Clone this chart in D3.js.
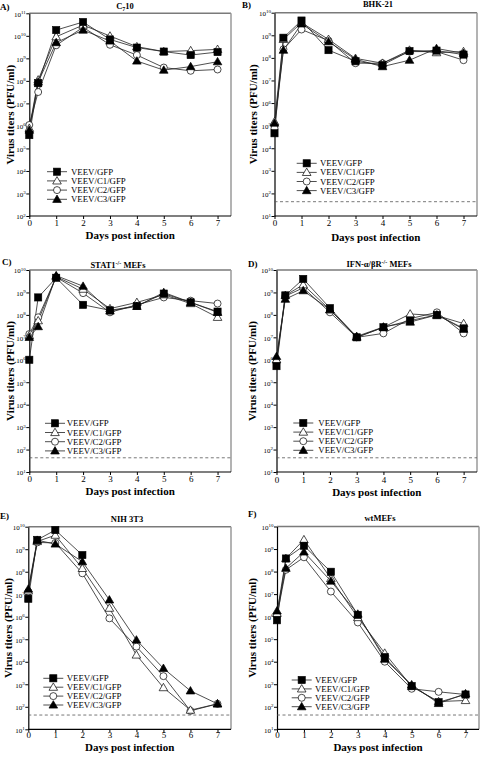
<!DOCTYPE html>
<html><head><meta charset="utf-8">
<script src="https://cdn.jsdelivr.net/npm/d3@7"></script>
<style>
body{margin:0;background:#fff;}
text{font-family:"Liberation Serif","Times New Roman",serif;fill:#000;}
</style></head><body>
<script>
// ---------- data ----------
const days = [0, 0.33, 1, 2, 3, 4, 5, 6, 7];
const xTicks = [0, 1, 2, 3, 4, 5, 6, 7];
const seriesNames = ["VEEV/GFP", "VEEV/C1/GFP", "VEEV/C2/GFP", "VEEV/C3/GFP"];
const panelLetters = ["A)", "B)", "C)", "D)", "E)", "F)"];
const yTickExpA = [2, 3, 4, 5, 6, 7, 8, 9, 10, 11];
const yTickExp = [1, 2, 3, 4, 5, 6, 7, 8, 9, 10];
const detectionLimit = 43;

// rows: VEEV/GFP, VEEV/C1/GFP, VEEV/C2/GFP, VEEV/C3/GFP  (PFU/ml)
const c710Titers = [
  [3.9e5, 7.9e7, 1.8e10, 4.1e10, 6.9e9, 3.0e9, 2.0e9, 1.4e9, 1.9e9],
  [7.9e5, 1.1e8, 9.1e9, 3.0e10, 9.8e9, 3.3e9, 2.0e9, 2.2e9, 2.5e9],
  [1.1e6, 3.2e7, 3.8e9, 2.4e10, 4.0e9, 1.4e9, 3.9e8, 2.8e8, 3.2e8],
  [6.5e5, 8.9e7, 5.0e9, 1.8e10, 5.9e9, 7.6e8, 3.0e8, 4.3e8, 7.1e8]
];
const bhkTiters = [
  [4.6e4, 7.8e8, 4.5e9, 2.2e8, 7.1e7, 4.8e7, 2.0e8, 2.1e8, 1.4e8],
  [1.5e5, 6.6e8, 3.6e9, 6.6e8, 9.5e7, 5.8e7, 2.2e8, 1.7e8, 1.9e8],
  [7.6e4, 2.4e8, 1.8e9, 5.8e8, 5.8e7, 5.8e7, 1.9e8, 1.9e8, 7.9e7],
  [1.3e5, 2.2e8, 3.2e9, 5.2e8, 8.7e7, 4.1e7, 7.9e7, 2.6e8, 1.6e8]
];
const stat1Titers = [
  [1.0e6, 6.0e8, 4.5e9, 2.8e8, 1.6e8, 2.5e8, 8.9e8, 3.6e8, 1.4e8],
  [1.2e7, 5.5e7, 5.0e9, 1.4e9, 1.9e8, 3.6e8, 7.9e8, 3.2e8, 7.8e7],
  [1.4e7, 7.8e7, 4.8e9, 9.3e8, 1.3e8, 2.8e8, 6.0e8, 4.3e8, 3.2e8],
  [1.0e7, 3.0e7, 5.6e9, 1.9e9, 1.5e8, 2.4e8, 1.0e9, 3.6e8, 1.3e8]
];
const ifnrTiters = [
  [5.2e5, 7.4e8, 4.0e9, 2.0e8, 1.0e7, 2.8e7, 5.6e7, 1.0e8, 2.5e7],
  [1.0e6, 7.4e8, 2.2e9, 1.7e8, 1.0e7, 2.8e7, 1.1e8, 9.3e7, 4.1e7],
  [7.9e5, 6.9e8, 1.6e9, 1.3e8, 1.0e7, 1.5e7, 6.8e7, 1.3e8, 1.5e7],
  [1.4e6, 5.0e8, 1.2e9, 1.7e8, 1.1e7, 2.9e7, 4.8e7, 1.0e8, 2.3e7]
];
const nih3t3Titers = [
  [6.3e6, 2.6e9, 7.1e9, 5.5e8, null, null, null, null, null],
  [1.4e7, 2.2e9, 4.2e9, 1.4e8, 2.4e6, 2.0e4, 7.1e2, 71, 1.35e2],
  [1.3e7, 2.0e9, 1.9e9, 8.5e7, 8.5e5, 4.7e4, 2.3e3, 66, 1.35e2],
  [1.7e7, 2.5e9, 1.7e9, 2.8e8, 5.6e6, 9.3e4, 5.1e3, 5.1e2, 1.35e2]
];
const wtMefTiters = [
  [6.9e5, 3.8e8, 1.4e9, 9.8e7, 1.2e6, 1.6e4, 8.3e2, 1.6e2, 3.5e2],
  [1.4e6, 3.8e8, 2.6e9, 4.9e7, 9.1e5, 2.4e4, 7.9e2, 1.7e2, 1.9e2],
  [1.1e6, 1.2e8, 4.3e8, 1.3e7, 5.5e5, 1.0e4, 6.3e2, 4.6e2, 3.5e2],
  [1.8e6, 1.4e8, 7.4e8, 3.8e7, 1.3e6, 1.3e4, 9.5e2, 1.4e2, 3.8e2]
];

// ---------- layout ----------
// title parts: mode 0 normal, 1 subscript, 2 superscript
const panels = [
  {data: c710Titers, exps: yTickExpA, title: [["C",0],["7",1],["10",0]], l:29.3, r:231, t:13.3, b:216, tx:125, ty:6, lx:0, ly:7,
   legX:57, legTX:71, legY:171.7, legStep:9.2, dashed:false, yTitleX:10, tickLY:223, xTitleY:235},
  {data: bhkTiters, exps: yTickExp, title: [["BHK-21",0]], l:274.5, r:477, t:12.7, b:216, tx:378, ty:4, lx:242, ly:5,
   legX:306.7, legTX:320, legY:163.3, legStep:9.1, dashed:true, yTitleX:253, tickLY:223, xTitleY:237},
  {data: stat1Titers, exps: yTickExp, title: [["STAT1",0],["-/-",2],[" MEFs",0]], l:29.3, r:231, t:270, b:472, tx:118, ty:265, lx:2, ly:262,
   legX:55, legTX:66.7, legY:423.3, legStep:9.2, dashed:true, yTitleX:10, tickLY:479, xTitleY:491},
  {data: ifnrTiters, exps: yTickExp, title: [["IFN-α/βR",0],["-/-",2],[" MEFs",0]], l:276.5, r:477, t:270, b:472, tx:379, ty:264, lx:248, ly:264,
   legX:303.3, legTX:318.3, legY:423, legStep:9.1, dashed:true, yTitleX:252, tickLY:480, xTitleY:492},
  {data: nih3t3Titers, exps: yTickExp, title: [["NIH 3T3",0]], l:28.3, r:231, t:526.7, b:729.3, tx:127, ty:519, lx:0, ly:516,
   legX:53.3, legTX:66.7, legY:678.3, legStep:8.9, dashed:true, yTitleX:8, tickLY:735, xTitleY:747.5},
  {data: wtMefTiters, exps: yTickExp, title: [["wtMEFs",0]], l:277, r:479, t:526.5, b:729.3, tx:380, ty:518, lx:248, ly:514,
   legX:301.7, legTX:315, legY:680, legStep:8.9, dashed:true, yTitleX:252, tickLY:735, xTitleY:747.5}
];

const svg = d3.select("body").append("svg").attr("width", 480).attr("height", 757);

function drawMarker(g, kind, cx, cy) {
  if (kind === 0) {
    g.append("rect").attr("x", cx - 3.6).attr("y", cy - 3.6).attr("width", 7.2).attr("height", 7.2)
      .attr("fill", "#000").attr("stroke", "#000").attr("stroke-width", 0.6);
  } else if (kind === 1 || kind === 3) {
    const s = 4.3;
    g.append("path").attr("d", `M${cx},${cy - s}L${cx + s},${cy + s * 0.72}L${cx - s},${cy + s * 0.72}Z`)
      .attr("fill", kind === 1 ? "#fff" : "#000").attr("stroke", "#000").attr("stroke-width", 0.7);
  } else {
    g.append("circle").attr("cx", cx).attr("cy", cy).attr("r", 3.5)
      .attr("fill", "#fff").attr("stroke", "#000").attr("stroke-width", 0.7);
  }
}

panels.forEach((p, pi) => {
  const g = svg.append("g");
  const x = d3.scaleLinear().domain([0, 7.5]).range([p.l, p.r]);
  const y = d3.scaleLog().domain([Math.pow(10, p.exps[0]), Math.pow(10, p.exps[p.exps.length - 1])]).range([p.b, p.t]);

  // frame (top/right grey)
  g.append("line").attr("x1", p.l).attr("x2", p.r).attr("y1", p.t).attr("y2", p.t).attr("stroke", "#7a7a7a").attr("stroke-width", 1.5);
  g.append("line").attr("x1", p.r).attr("x2", p.r).attr("y1", p.t).attr("y2", p.b).attr("stroke", "#9a9a9a").attr("stroke-width", 1.5);

  // axes
  const xa = g.append("g").attr("transform", `translate(0,${p.b})`)
    .call(d3.axisBottom(x).tickValues(xTicks).tickSize(3).tickSizeOuter(0).tickFormat(d3.format("d")));
  xa.select(".domain").attr("stroke", "#000").attr("stroke-width", 1.2).attr("d", `M${p.l},0H${p.r}`);
  xa.selectAll("text").attr("font-size", 9).attr("dy", null).attr("y", p.tickLY - p.b + 3);
  const ya = g.append("g").attr("transform", `translate(${p.l},0)`)
    .call(d3.axisLeft(y).tickValues(p.exps.map(e => Math.pow(10, e))).tickSize(3).tickSizeOuter(0).tickFormat(""));
  ya.select(".domain").attr("stroke", "#000").attr("stroke-width", 1.2);
  ya.selectAll(".tick text").each(function (d) {
    const t = d3.select(this).attr("font-size", 7).attr("x", -3.5).attr("dy", "0.4em");
    t.append("tspan").text("10");
    t.append("tspan").attr("font-size", 5).attr("dy", "-0.55em").text(Math.round(Math.log10(d)));
  });

  // detection limit
  if (p.dashed) {
    g.append("line").attr("x1", p.l).attr("x2", p.r).attr("y1", y(detectionLimit)).attr("y2", y(detectionLimit))
      .attr("stroke", "#555").attr("stroke-width", 0.8).attr("stroke-dasharray", "3,2.5");
  }

  // lines
  const line = d3.line().defined(d => d != null).x((d, i) => x(days[i])).y(d => y(d));
  p.data.forEach(s => {
    g.append("path").attr("d", line(s)).attr("fill", "none").attr("stroke", "#222").attr("stroke-width", 0.8);
  });
  // markers
  [2, 1, 3, 0].forEach(k => {
    p.data[k].forEach((v, i) => { if (v != null) drawMarker(g, k, x(days[i]), y(v)); });
  });

  // legend
  seriesNames.forEach((name, k) => {
    const ly = p.legY + k * p.legStep;
    g.append("line").attr("x1", p.legX - 10).attr("x2", p.legX + 10).attr("y1", ly).attr("y2", ly).attr("stroke", "#222").attr("stroke-width", 0.8);
    drawMarker(g, k, p.legX, ly);
    g.append("text").attr("x", p.legTX).attr("y", ly).attr("dy", "0.35em").attr("font-size", 8.8).text(name);
  });

  // titles
  const tt = g.append("text").attr("x", p.tx).attr("y", p.ty + 3).attr("text-anchor", "middle")
    .attr("font-size", 8.5).attr("font-weight", "bold");
  p.title.forEach(([s, mode]) => {
    const ts = tt.append("tspan").text(s);
    if (mode === 1) ts.attr("font-size", 6).attr("baseline-shift", "-25%");
    else if (mode === 2) ts.attr("font-size", 6).attr("baseline-shift", "45%");
  });
  g.append("text").attr("x", p.lx).attr("y", p.ly).attr("dy", "0.35em").attr("font-size", 9).attr("font-weight", "bold").text(panelLetters[pi]);
  g.append("text").attr("x", (p.l + p.r) / 2).attr("y", p.xTitleY).attr("dy", "0.35em").attr("text-anchor", "middle")
    .attr("font-size", 11).attr("font-weight", "bold").text("Days post infection");
  g.append("text").attr("transform", `translate(${p.yTitleX},${(p.t + p.b) / 2}) rotate(-90)`).attr("dy", "0.35em")
    .attr("text-anchor", "middle").attr("font-size", 11).attr("font-weight", "bold").text("Virus titers (PFU/ml)");
});
</script>
</body></html>
